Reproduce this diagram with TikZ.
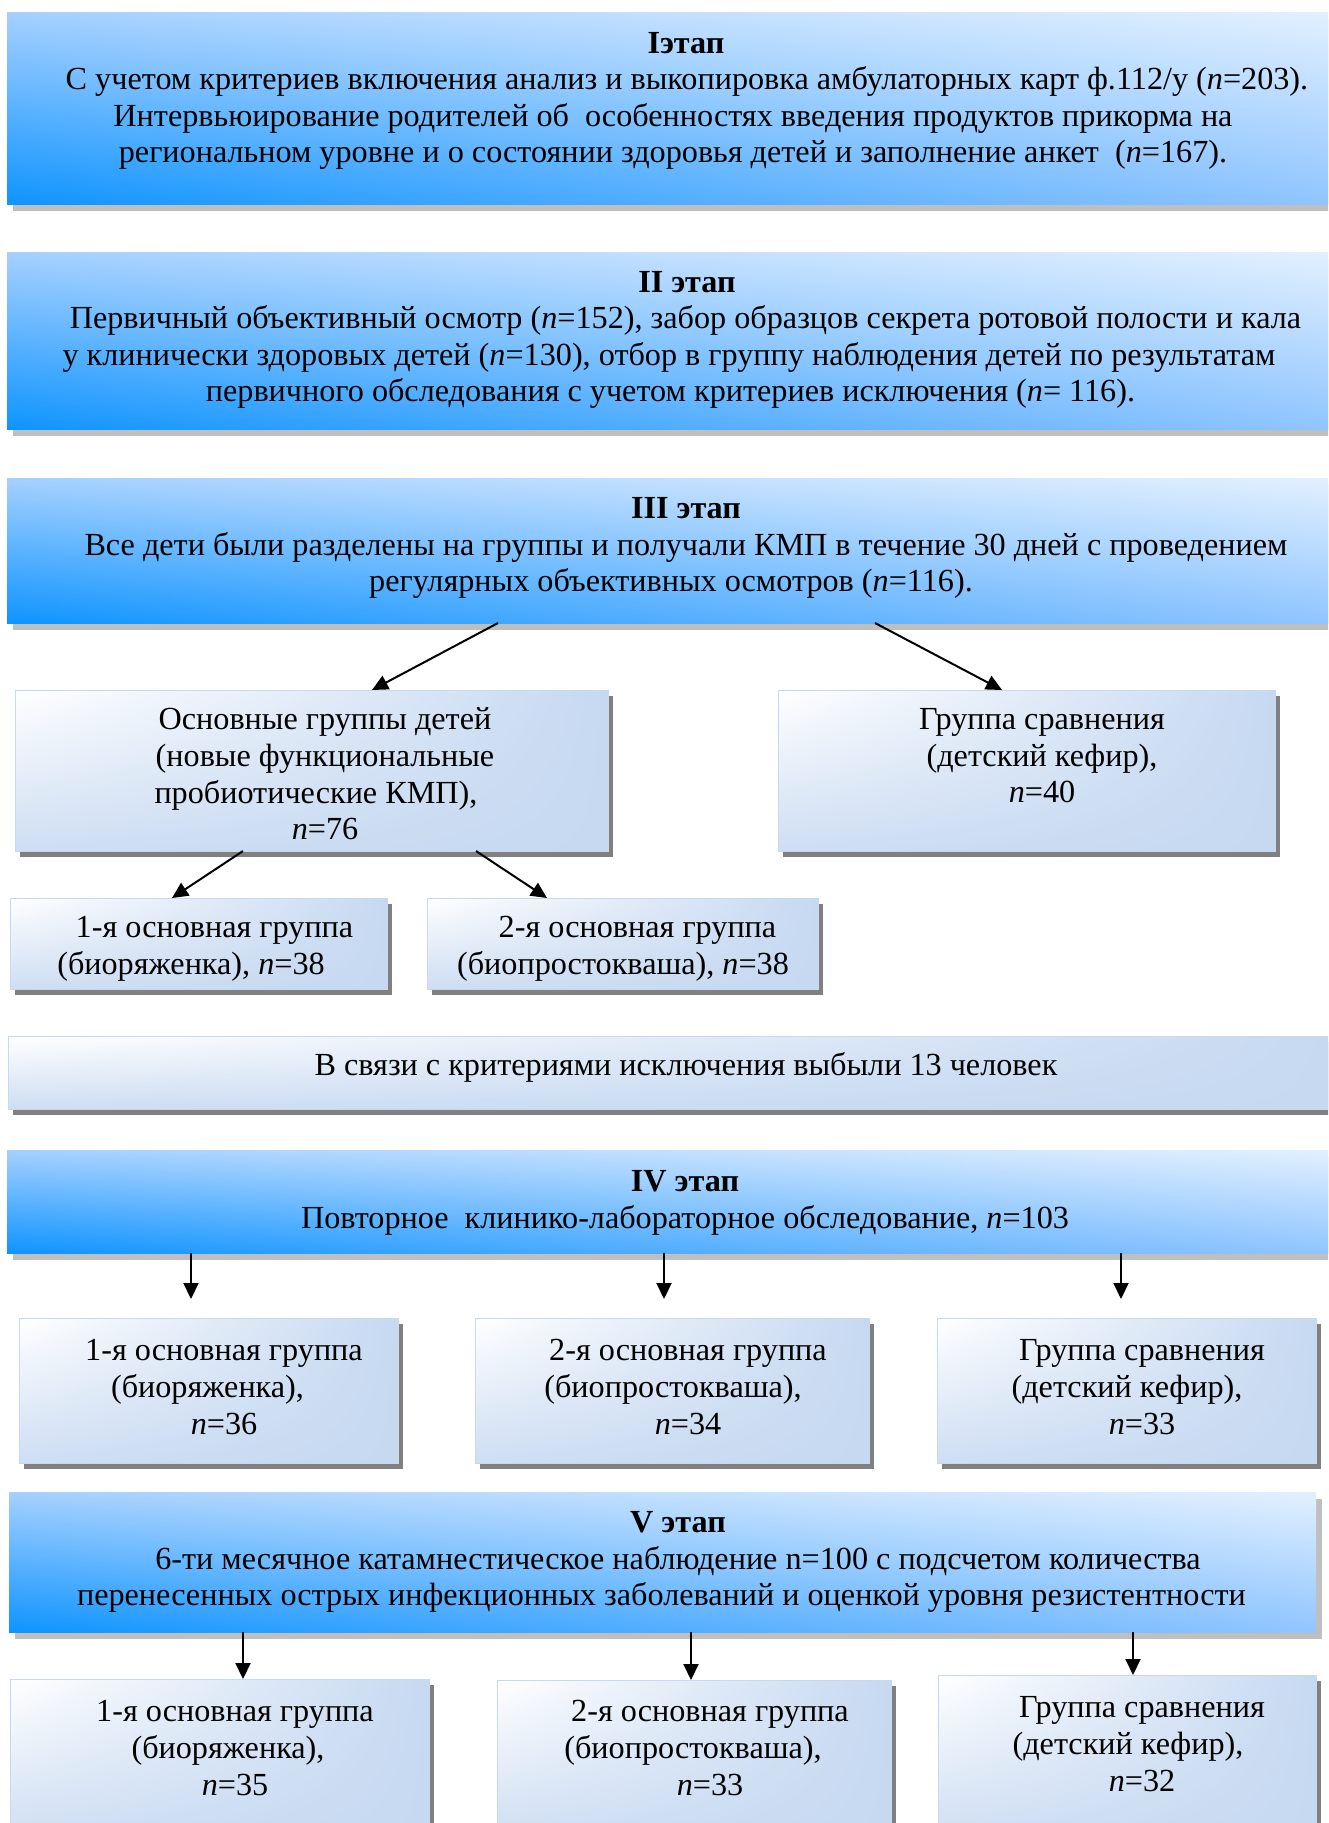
\documentclass[tikz,border=0pt]{standalone}
\usepackage{fontspec}
\setmainfont{Liberation Serif}
\usetikzlibrary{shadows,shadings,arrows.meta,calc}
\definecolor{stLL}{RGB}{15,148,255}
\definecolor{stUL}{RGB}{165,208,255}
\definecolor{stUR}{RGB}{226,240,255}
\definecolor{stLR}{RGB}{145,197,255}
\definecolor{grpB}{RGB}{198,217,241}
\definecolor{grpL}{RGB}{206,222,243}
\definecolor{shA}{RGB}{191,191,191}
\definecolor{shB}{RGB}{128,128,128}
\newcommand\movR[2]{\mbox{\kern#1pt #2}}
\newcommand\movL[2]{\mbox{#2\kern#1pt}}
\tikzset{
  stagebox/.style={rectangle, inner sep=0pt, outer sep=0pt, anchor=north west,
    shade, shading=bilinear interpolation,
    lower left=stLL, upper left=stUL, upper right=stUR, lower right=stLR,
    drop shadow={shadow xshift=6pt, shadow yshift=-7pt, fill=shA, opacity=1}},
  grpbox/.style={rectangle, inner sep=0pt, outer sep=0pt, anchor=north west,
    draw=grpB, line width=1pt, shade, shading=bilinear interpolation,
    upper left=white, upper right=grpB, lower left=grpL, lower right=grpB,
    drop shadow={shadow xshift=5pt, shadow yshift=-6pt, fill=shB, opacity=1}},
  txt/.style={align=center, font=\fontsize{32.2}{36.6}\selectfont, inner sep=0pt},
  arr/.style={line width=2pt, -{Triangle[length=16pt,width=15pt]}},
}
\begin{document}
\begin{tikzpicture}[x=1pt,y=-1pt]
\useasboundingbox (0,0) rectangle (1328,1823);
\clip (0,0) rectangle (1328,1823);
% stage boxes
\node[stagebox, minimum width=1325pt, minimum height=192pt] (s1) at (7,12) {};
\node[stagebox, minimum width=1325pt, minimum height=177pt] (s2) at (7,252) {};
\node[stagebox, minimum width=1325pt, minimum height=145pt] (s3) at (7,478) {};
\node[grpbox, minimum width=593pt, minimum height=161pt] (g0) at (15,690) {};
\node[grpbox, minimum width=497pt, minimum height=161pt] (c0) at (778,690) {};
\node[grpbox, minimum width=377pt, minimum height=91pt] (b1) at (10,898) {};
\node[grpbox, minimum width=391pt, minimum height=91pt] (b2) at (427,898) {};
\node[grpbox, minimum width=1325pt, minimum height=73pt] (ex) at (8,1036) {};
\node[stagebox, minimum width=1325pt, minimum height=103pt] (s4) at (7,1150) {};
\node[grpbox, minimum width=379pt, minimum height=145pt] (d1) at (19,1318) {};
\node[grpbox, minimum width=394pt, minimum height=145pt] (d2) at (475,1318) {};
\node[grpbox, minimum width=379pt, minimum height=145pt] (d3) at (937,1318) {};
\node[stagebox, minimum width=1307pt, minimum height=140pt] (s5) at (9,1492) {};
\node[grpbox, minimum width=419pt, minimum height=160pt] (e1) at (10,1679) {};
\node[grpbox, minimum width=394pt, minimum height=160pt] (e2) at (497,1680) {};
\node[grpbox, minimum width=378pt, minimum height=165pt] (e3) at (938,1675) {};
% texts
\node[txt] (t1) at (680,101) {\movR{12}{\textbf{Iэтап}}\\\movR{14}{С учетом критериев включения анализ и выкопировка амбулаторных карт ф.112/у (\textit{n}=203).}\\\movL{14}{Интервьюирование родителей об\ \ особенностях введения продуктов прикорма на}\\\movL{14}{региональном уровне и о состоянии здоровья детей и заполнение анкет\ \ (\textit{n}=167).}};
\node[txt] (t2) at (678,340) {\movR{18}{\textbf{II этап}}\\\movR{15}{Первичный объективный осмотр (\textit{n}=152), забор образцов секрета ротовой полости и кала}\\\movL{18}{у клинически здоровых детей (\textit{n}=130), отбор в группу наблюдения детей по результатам}\\\movL{15}{первичного обследования с учетом критериев исключения (\textit{n}= 116).}};
\node[txt] (t3) at (680,548) {\movR{12}{\textbf{III этап}}\\\movR{12}{Все дети были разделены на группы и получали КМП в течение 30 дней с проведением}\\\movL{18}{регулярных объективных осмотров (\textit{n}=116).}};
\node[txt] (tg0) at (325,774) {Основные группы детей\\(новые функциональные\\\movL{18}{пробиотические КМП),}\\\textit{n}=76};
\node[txt] (tc0) at (1042,756) {Группа сравнения\\(детский кефир),\\\textit{n}=40};
\node[txt] (tb1) at (200,949) {\movR{29}{1-я основная группа}\\\movL{18}{(биоряженка), \textit{n}=38}};
\node[txt] (tb2) at (630,949) {\movR{15}{2-я основная группа}\\\movL{14}{(биопростокваша), \textit{n}=38}};
\node[txt] (tex) at (686,1067) {В связи с критериями исключения выбыли 13 человек};
\node[txt] (t4) at (685,1203) {\textbf{IV этап}\\Повторное\ \ клинико-лабораторное обследование, \textit{n}=103};
\node[txt] (td1) at (224,1387) {1-я основная группа\\\movL{33}{(биоряженка),}\\\textit{n}=36};
\node[txt] (td2) at (688,1387) {2-я основная группа\\\movL{30}{(биопростокваша),}\\\textit{n}=34};
\node[txt] (td3) at (1142,1387) {Группа сравнения\\\movL{30}{(детский кефир),}\\\textit{n}=33};
\node[txt] (t5) at (678,1562) {\textbf{V этап}\\6-ти месячное катамнестическое наблюдение n=100 с подсчетом количества\\\movL{33}{перенесенных острых инфекционных заболеваний и оценкой уровня резистентности}};
\node[txt] (te1) at (235,1748) {1-я основная группа\\\movL{14}{(биоряженка),}\\\textit{n}=35};
\node[txt] (te2) at (710,1748) {2-я основная группа\\\movL{34}{(биопростокваша),}\\\textit{n}=33};
\node[txt] (te3) at (1142,1744) {Группа сравнения\\\movL{28}{(детский кефир),}\\\textit{n}=32};
% arrows
\draw[arr] ([xshift=491pt]s3.south west) -- ([xshift=357pt]g0.north west);
\draw[arr] ([xshift=868pt]s3.south west) -- ([xshift=224pt]c0.north west);
\draw[arr] ([xshift=228pt]g0.south west) -- ([xshift=162pt]b1.north west);
\draw[arr] ([xshift=461pt]g0.south west) -- ([xshift=120pt]b2.north west);
\draw[arr] ([xshift=184pt]s4.south west) -- ([xshift=172pt,yshift=19pt]d1.north west);
\draw[arr] ([xshift=657pt]s4.south west) -- ([xshift=189pt,yshift=19pt]d2.north west);
\draw[arr] ([xshift=1114pt]s4.south west) -- ([xshift=184pt,yshift=19pt]d3.north west);
\draw[arr] ([xshift=234pt]s5.south west) -- ([xshift=233pt]e1.north west);
\draw[arr] ([xshift=682pt]s5.south west) -- ([xshift=194pt]e2.north west);
\draw[arr] ([xshift=1124pt]s5.south west) -- ([xshift=195pt]e3.north west);
\end{tikzpicture}
\end{document}
